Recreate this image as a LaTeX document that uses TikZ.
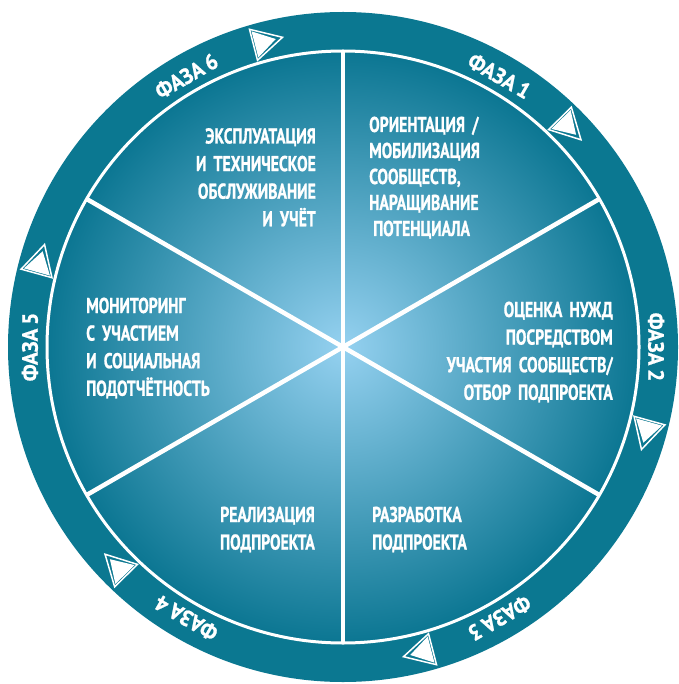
\documentclass[tikz,border=0pt]{standalone}
\usepackage{fontspec}
\usetikzlibrary{calc}
\newfontfamily\condfont{PT Sans Bold}[FakeStretch=0.73, FakeBold=1]
\newfontfamily\phasefont{PT Sans Bold}[FakeStretch=0.95, FakeBold=1]
\DeclareRobustCommand\segfont{\condfont\fontsize{21.5}{27.6}\selectfont\fontdimen2\font=2.5pt\relax}
\DeclareRobustCommand\segfonttight{\condfont\fontsize{21.5}{26}\selectfont\fontdimen2\font=2.5pt\relax}
\DeclareRobustCommand\phfont{\phasefont\fontsize{22}{24}\selectfont\fontdimen2\font=4pt\relax}
\definecolor{ringcol}{HTML}{0B7891}
\definecolor{diskin}{HTML}{95D1F0}
\definecolor{diskout}{HTML}{0B7692}
\pgfdeclareradialshading{diskshade}{\pgfpoint{0bp}{0bp}}{color(0bp)=(diskin); color(25bp)=(diskout); color(50bp)=(diskout)}
\begin{document}
\begin{tikzpicture}[x=1pt,y=1pt,
  segtext/.style={text=white, font=\segfont, inner sep=0pt, text width=230pt},
  phasetext/.style={text=white, font=\phfont, inner sep=0pt},
  divider/.style={white, line width=4.5pt},
  arrowline/.style={white, line width=1.5pt, line join=miter},
  arrowfill/.style={fill=white}]
\useasboundingbox (0,0) rectangle (678,-684);
\coordinate (C) at (343,-347);
% ring and disk
\fill[ringcol] (C) circle (335);
\shade[shading=diskshade] (C) circle (296);
\draw[white, line width=3pt] (C) circle (296);
\foreach \a in {90,30,-30,-90,-150,150} \draw[divider] (C) -- ++(\a:296);
% arrows on the ring
\foreach \p in {104.5,44.5,-15.5,-75.5,224.5,164.5} {
  \begin{scope}[shift={(C)}, rotate=\p-90, shift={(0,315)}]
    \draw[arrowline] (-11,16) -- (19,0) -- (-11,-16) -- cycle;
    \fill[arrowfill] (-9.5,13.5) -- (12,0) -- (-9.5,-13.5) -- cycle;
  \end{scope}
}
% phase labels
\node[phasetext, rotate=30]  (ph6) at ($(C)+(120:313)$) {ФАЗА 6};
\node[phasetext, rotate=-30] (ph1) at ($(C)+(60:313)$) {ФАЗА 1};
\node[phasetext, rotate=-90] (ph2) at ($(C)+(0:313)$) {ФАЗА 2};
\node[phasetext, rotate=210] (ph3) at ($(C)+(-60:313)$) {ФАЗА 3};
\node[phasetext, rotate=150] (ph4) at ($(C)+(240:313)$) {ФАЗА 4};
\node[phasetext, rotate=90]  (ph5) at ($(C)+(180:313)$) {ФАЗА 5};
% segment texts
\node[segtext, align=left, anchor=base west, font=\segfonttight] (s1) at (369,-132)
  {ОРИЕНТАЦИЯ /\\МОБИЛИЗАЦИЯ\\СООБЩЕСТВ,\\НАРАЩИВАНИЕ\\\hspace*{4pt}ПОТЕНЦИАЛА};
\node[segtext, align=right, anchor=base east] (s6) at (316,-143.5)
  {ЭКСПЛУАТАЦИЯ\\И ТЕХНИЧЕСКОЕ\\ОБСЛУЖИВАНИЕ\\И УЧЁТ};
\node[segtext, align=right, anchor=base east] (s2) at (613,-317)
  {ОЦЕНКА НУЖД\\ПОСРЕДСТВОМ\\УЧАСТИЯ СООБЩЕСТВ/\\ОТБОР ПОДПРОЕКТА};
\node[segtext, align=left, anchor=base west] (s5) at (86,-313)
  {МОНИТОРИНГ\\С УЧАСТИЕМ\\И СОЦИАЛЬНАЯ\\ПОДОТЧЁТНОСТЬ};
\node[segtext, align=right, anchor=base east] (s4) at (315,-522)
  {РЕАЛИЗАЦИЯ\\ПОДПРОЕКТА};
\node[segtext, align=left, anchor=base west] (s3) at (372,-522)
  {РАЗРАБОТКА\\ПОДПРОЕКТА};
\end{tikzpicture}
\end{document}
